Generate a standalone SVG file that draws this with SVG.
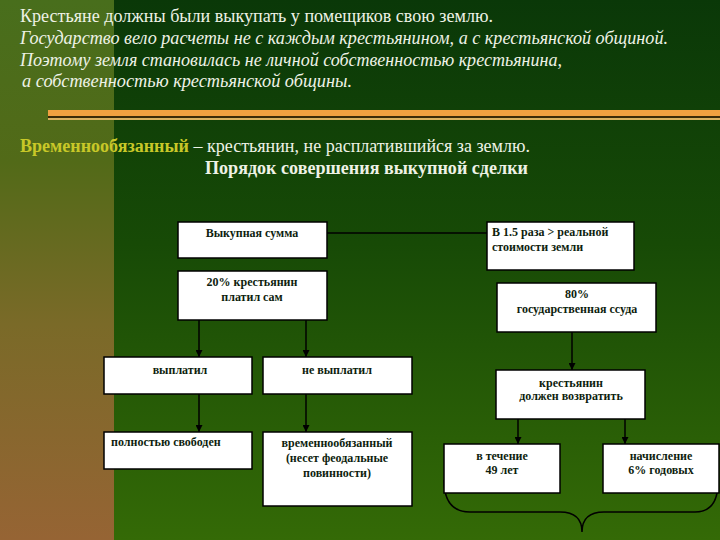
<svg xmlns="http://www.w3.org/2000/svg" width="720" height="540" viewBox="0 0 720 540">
<defs>
<linearGradient id="bgMain" x1="0" y1="0" x2="0" y2="1">
<stop offset="0" stop-color="#0a3808"/>
<stop offset="0.45" stop-color="#174a06"/>
<stop offset="1" stop-color="#346a06"/>
</linearGradient>
<linearGradient id="bgLeft" x1="0" y1="0" x2="0" y2="1">
<stop offset="0" stop-color="#486e1c"/>
<stop offset="0.3" stop-color="#526a18"/>
<stop offset="0.6" stop-color="#7a6a28"/>
<stop offset="1" stop-color="#966434"/>
</linearGradient>
<marker id="arr" viewBox="0 0 10 10" refX="10" refY="5" markerWidth="7" markerHeight="7" markerUnits="userSpaceOnUse" orient="auto">
<path d="M0,0 L10,5 L0,10 z" fill="#000"/>
</marker>
<style>
.head{font-family:"Liberation Serif","DejaVu Serif",serif;font-size:18px;fill:#eef2e6}
.it{font-style:italic}
.box{fill:#ffffff;stroke:#000;stroke-width:1.5}
.bt{font-family:"Liberation Serif","DejaVu Serif",serif;font-size:12px;font-weight:bold;fill:#0e1e0e}
.c{text-anchor:middle}
.ln{stroke:#000;stroke-width:1.5;fill:none}
</style>
</defs>
<rect x="0" y="0" width="720" height="540" fill="url(#bgMain)"/>
<rect x="0" y="0" width="114" height="540" fill="url(#bgLeft)"/>
<rect x="48" y="110" width="672" height="6" fill="#f0a040"/>
<rect x="48" y="116" width="672" height="2" fill="#3a2a08"/>
<rect x="48" y="118" width="672" height="2" fill="#d8b060"/>

<g id="header">
<text class="head" x="20" y="22" textLength="473" lengthAdjust="spacingAndGlyphs">Крестьяне должны были выкупать у помещиков свою землю.</text>
<text class="head it" x="20" y="44" textLength="648" lengthAdjust="spacingAndGlyphs">Государство вело расчеты не с каждым крестьянином, а с крестьянской общиной.</text>
<text class="head it" x="20" y="66" textLength="542" lengthAdjust="spacingAndGlyphs">Поэтому земля становилась не личной собственностью крестьянина,</text>
<text class="head it" x="22" y="87" textLength="330" lengthAdjust="spacingAndGlyphs">а собственностью крестьянской общины.</text>
<text class="head" x="20" y="152" textLength="510" lengthAdjust="spacingAndGlyphs"><tspan fill="#c8c828" font-weight="bold">Временнообязанный</tspan> – крестьянин, не расплатившийся за землю.</text>
<text class="head" x="205" y="174" font-weight="bold" textLength="323" lengthAdjust="spacingAndGlyphs">Порядок совершения выкупной сделки</text>
</g>

<g id="connectors">
<line class="ln" x1="327" y1="233" x2="487" y2="233"/>
<line class="ln" x1="199" y1="320" x2="199" y2="357" marker-end="url(#arr)"/>
<line class="ln" x1="306" y1="320" x2="306" y2="357" marker-end="url(#arr)"/>
<line class="ln" x1="199" y1="394" x2="199" y2="432" marker-end="url(#arr)"/>
<line class="ln" x1="306" y1="394" x2="306" y2="432" marker-end="url(#arr)"/>
<line class="ln" x1="572" y1="332" x2="572" y2="370" marker-end="url(#arr)"/>
<line class="ln" x1="518" y1="419" x2="518" y2="444" marker-end="url(#arr)"/>
<line class="ln" x1="625" y1="419" x2="625" y2="444" marker-end="url(#arr)"/>
<path class="ln" stroke-width="1.2" d="M444,480 Q444,512 470,512 L560,512 Q582,512 582,532 Q582,512 604,512 L695,512 Q718,512 718,482"/>
</g>

<g id="n-sum">
<rect class="box" x="178" y="222" width="149" height="36"/>
<text class="bt c" x="252" y="237">Выкупная сумма</text>
</g>
<g id="n-15">
<rect class="box" x="487" y="222" width="147" height="48"/>
<text class="bt" x="492" y="236">В 1.5 раза &gt; реальной</text>
<text class="bt" x="492" y="251" font-size="11">стоимости земли</text>
</g>
<g id="n-20">
<rect class="box" x="178" y="271" width="149" height="49"/>
<text class="bt c" x="252" y="286">20% крестьянин</text>
<text class="bt c" x="252" y="301">платил сам</text>
</g>
<g id="n-80">
<rect class="box" x="497" y="283" width="159" height="49"/>
<text class="bt c" x="577" y="298">80%</text>
<text class="bt c" x="577" y="313">государственная ссуда</text>
</g>
<g id="n-paid">
<rect class="box" x="104" y="357" width="148" height="37"/>
<text class="bt c" x="180" y="374">выплатил</text>
</g>
<g id="n-notpaid">
<rect class="box" x="263" y="357" width="149" height="37"/>
<text class="bt c" x="337" y="374">не выплатил</text>
</g>
<g id="n-free">
<rect class="box" x="104" y="432" width="148" height="37"/>
<text class="bt" x="111" y="446">полностью свободен</text>
</g>
<g id="n-temp">
<rect class="box" x="263" y="432" width="149" height="74"/>
<text class="bt c" x="337" y="447">временнообязанный</text>
<text class="bt c" x="337" y="462">(несет феодальные</text>
<text class="bt c" x="337" y="477">повинности)</text>
</g>
<g id="n-return">
<rect class="box" x="496" y="370" width="149" height="49"/>
<text class="bt c" x="571" y="387">крестьянин</text>
<text class="bt c" x="571" y="400">должен возвратить</text>
</g>
<g id="n-49">
<rect class="box" x="444" y="444" width="116" height="49"/>
<text class="bt c" x="502" y="460">в течение</text>
<text class="bt c" x="502" y="474">49 лет</text>
</g>
<g id="n-6">
<rect class="box" x="603" y="444" width="116" height="49"/>
<text class="bt c" x="661" y="460">начисление</text>
<text class="bt c" x="661" y="474">6% годовых</text>
</g>
</svg>
